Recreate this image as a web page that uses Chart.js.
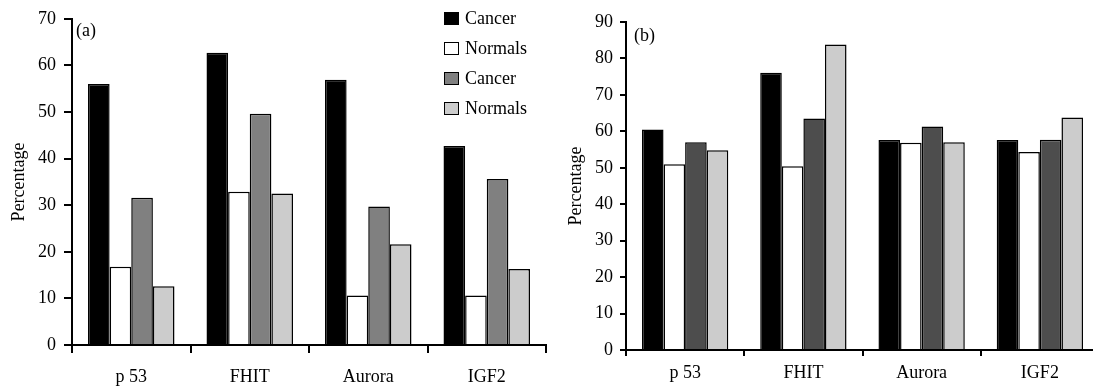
<!DOCTYPE html>
<html>
<head>
<meta charset="utf-8">
<script src="https://cdn.jsdelivr.net/npm/chart.js@4"></script>
<style>
  html, body { margin: 0; padding: 0; background: #fff; overflow: hidden; width: 1093px; height: 387px; }
  .panel { position: absolute; top: 0; }
  #wrapA { left: 0; width: 552px; height: 387px; }
  #wrapB { left: 552px; width: 553px; height: 387px; }
  .tag { position: absolute; font-family: "Liberation Serif", serif; font-size: 18px; color: #000; line-height: 1; }
  #legend { position: absolute; left: 444px; top: 9px; font-family: "Liberation Serif", serif; font-size: 18px; color: #000; }
  .item { height: 30px; display: flex; align-items: flex-start; }
  .box { width: 13px; height: 11px; border: 1.5px solid #000; margin-right: 6px; margin-top: 3px; }
  .item span { line-height: 18px; }
</style>
</head>
<body>
<div id="wrapA" class="panel"><canvas id="chart-a" width="552" height="387"></canvas></div>
<div id="wrapB" class="panel"><canvas id="chart-b" width="553" height="387"></canvas></div>
<div class="tag" style="left:76px; top:21px;">(a)</div>
<div class="tag" style="left:634px; top:26px;">(b)</div>
<div id="legend"></div>

<script>
const genes = ["p 53", "FHIT", "Aurora", "IGF2"];
const seriesNames = ["Cancer", "Normals", "Cancer", "Normals"];

// panel (a)
const cancerA1 = [56, 62.7, 56.9, 42.7];
const normalsA1 = [16.8, 32.9, 10.6, 10.6];
const cancerA2 = [31.6, 49.6, 29.7, 35.6];
const normalsA2 = [12.6, 32.5, 21.6, 16.3];
const yMaxA = 70;

// panel (b)
const cancerB1 = [60.5, 76.1, 57.6, 57.6];
const normalsB1 = [51.0, 50.4, 56.9, 54.3];
const cancerB2 = [57.0, 63.5, 61.3, 57.7];
const normalsB2 = [54.8, 83.8, 57.0, 63.8];
const yMaxB = 90;

const colorsA = ["#000000", "#ffffff", "#808080", "#cccccc"];
const colorsB = ["#000000", "#ffffff", "#4d4d4d", "#cccccc"];
const fontFamily = "'Liberation Serif', 'Times New Roman', serif";

Chart.defaults.font.family = fontFamily;
Chart.defaults.color = "#000";

function makeChart(canvasId, series, colors, yMax, opts) {
    return new Chart(document.getElementById(canvasId), {
        type: "bar",
        data: {
            labels: genes,
            datasets: series.map((vals, i) => ({
                label: seriesNames[i],
                data: vals,
                backgroundColor: colors[i],
                borderColor: "#000",
                borderWidth: 1.5,
                categoryPercentage: 0.73,
                barPercentage: 1.0,
            })),
        },
        options: {
            responsive: false,
            animation: false,
            devicePixelRatio: 1,
            layout: { padding: { top: opts.top, right: 6, left: 0, bottom: 0 } },
            plugins: { legend: { display: false }, tooltip: { enabled: false } },
            scales: {
                x: {
                    grid: { offset: true, drawOnChartArea: false, tickLength: opts.tick, color: "#000", lineWidth: 2 },
                    border: { color: "#000", width: 2 },
                    ticks: { font: { size: 18 }, padding: opts.xPad, color: "#000" },
                    afterFit: (s) => { s.height = opts.xHeight; },
                },
                y: {
                    min: 0,
                    max: yMax,
                    ticks: { stepSize: 10, font: { size: 18 }, padding: opts.yPad, color: "#000" },
                    grid: { drawOnChartArea: false, tickLength: opts.tick, color: "#000", lineWidth: 2 },
                    border: { color: "#000", width: 2 },
                    title: { display: true, text: "Percentage", font: { size: 18 }, padding: { top: opts.titlePad, bottom: 0 } },
                    afterFit: (s) => { s.width = opts.yWidth; },
                },
            },
        },
    });
}

const chartA = makeChart("chart-a", [cancerA1, normalsA1, cancerA2, normalsA2], colorsA, yMaxA,
    { top: 17, xHeight: 42, yWidth: 72, xPad: 13, yPad: 8, tick: 8, titlePad: 8 });
const chartB = makeChart("chart-b", [cancerB1, normalsB1, cancerB2, normalsB2], colorsB, yMaxB,
    { top: 22, xHeight: 37, yWidth: 74, xPad: 6, yPad: 7, tick: 6, titlePad: 13 });

// legend for panel (a)
const legend = document.getElementById("legend");
seriesNames.forEach((name, i) => {
    const row = document.createElement("div");
    row.className = "item";
    const box = document.createElement("div");
    box.className = "box";
    box.style.background = colorsA[i];
    const txt = document.createElement("span");
    txt.textContent = name;
    row.appendChild(box);
    row.appendChild(txt);
    legend.appendChild(row);
});
</script>
</body>
</html>
